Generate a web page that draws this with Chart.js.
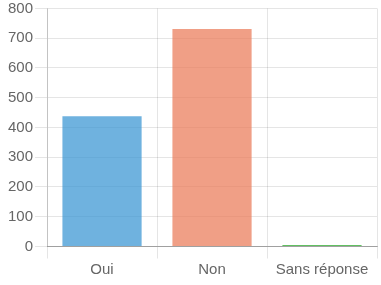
<!DOCTYPE html>
<html>
<head>
<meta charset="utf-8">
<script src="https://cdn.jsdelivr.net/npm/chart.js@4/dist/chart.umd.min.js"></script>
<style>
    html, body { margin: 0; padding: 0; background: #fff; }
    #wrap { width: 381px; height: 285px; }
</style>
</head>
<body>
<div id="wrap"><canvas id="reponsesChart"></canvas></div>
<script>
// Réponses par catégorie
const categories = ['Oui', 'Non', 'Sans réponse'];
const counts = [438, 731, 5];
const yTicks = [0, 100, 200, 300, 400, 500, 600, 700, 800];

const colors = {
    blue: 'rgba(50, 145, 210, 0.7)',
    salmon: 'rgba(233, 118, 82, 0.7)',
    green: 'rgba(80, 185, 80, 0.9)',
    grid: 'rgba(0, 0, 0, 0.1)',
    text: '#666'
};

const ctx = document.getElementById('reponsesChart');
new Chart(ctx, {
    type: 'bar',
    data: {
        labels: categories,
        datasets: [{
            data: counts,
            backgroundColor: [colors.blue, colors.salmon, colors.green],
            borderWidth: 0
        }]
    },
    options: {
        responsive: true,
        maintainAspectRatio: false,
        animation: false,
        layout: { padding: { left: 6, right: 4, bottom: 4.5, top: 0 } },
        plugins: {
            legend: { display: false },
            tooltip: { enabled: false }
        },
        scales: {
            x: {
                z: 1,
                grid: { color: colors.grid, offset: true, tickLength: 12 },
                border: { color: 'rgba(0,0,0,0.3)' },
                ticks: { color: colors.text, padding: 2, font: { family: 'Liberation Sans', size: 15 } }
            },
            y: {
                min: yTicks[0],
                max: yTicks[yTicks.length - 1],
                afterBuildTicks: function(axis) {
                    axis.ticks = yTicks.map(v => ({ value: v }));
                },
                grid: { color: colors.grid, tickLength: 12 },
                border: { color: 'rgba(0,0,0,0.15)' },
                ticks: { color: colors.text, padding: 2, font: { family: 'Liberation Sans', size: 15, lineHeight: 0.85 } }
            }
        }
    }
});
</script>
</body>
</html>
